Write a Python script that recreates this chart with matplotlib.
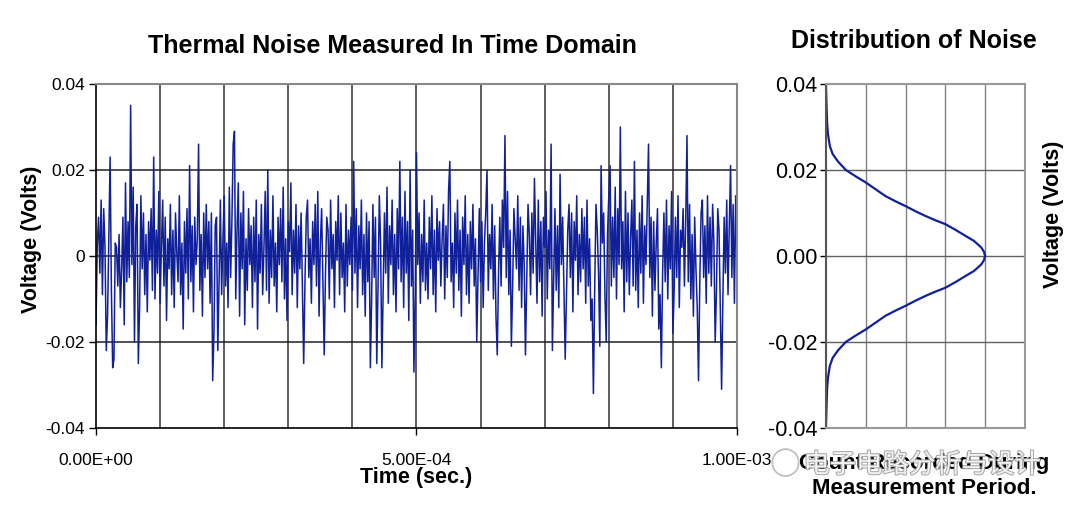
import numpy as np
import matplotlib.pyplot as plt
import matplotlib.patheffects as pe

# noise trace, mV, one sample every 2 us (0 .. 1 ms)
noise_mv = [
    -16, 3, 9, -4, 13, -9, 11, 2, -22, -14, 4, 23, -8, -26, -24, 3, 2, -7, 5, -12,
    -3, 9, -16, 17, -6, 8, -5, 35, -2, 16, -20, 7, 12, -25, -12, 14, -3, 10, -9, 5,
    -13, 8, -1, 11, -8, 23, -10, 6, -4, 15, -11, 2, 13, -7, 9, -15, 4, -3, 12, -9,
    6, -12, 10, 1, -6, 14, -9, 3, -17, 8, -4, 11, -10, 21, -6, 7, -13, 9, -2, 4,
    26, -8, 5, -14, 10, -5, 12, -3, 8, -11, 10, -29, -18, 7, 9, -22, -6, 13, -9, 4,
    14, -7, 3, -12, 16, -5, 8, 26, 29, -10, 6, 17, -14, 10, -3, 15, -16, 4, -8, 11,
    -2, 7, -12, 9, -6, 13, -17, 5, -4, 12, -9, 2, 15, -8, 20, -11, 6, -5, 14, -7,
    3, -13, 9, -2, 11, -6, 16, -10, 4, -15, 8, 1, 17, -9, 6, -4, 12, -12, 7, -3,
    10, -8, -25, -6, 9, 13, -5, 4, -11, 8, -2, 12, -7, 15, -14, 3, 11, -6, -23, -4,
    9, 6, -10, 13, -3, 5, -12, 8, -1, 14, -9, 10, -5, 3, -13, 12, -7, 6, -2, 9,
    -8, 22, -4, 11, -12, 7, -3, 13, -9, 5, -14, 10, -6, 8, -26, -10, 12, -5, 9, -25,
    -7, 14, 3, -26, -8, 10, -4, 16, -11, 7, -2, 13, -9, 5, -13, 11, -3, 22, -6, 9,
    -12, 15, -4, 8, -15, 20, -7, 6, -27, -9, 24, -2, 10, -11, 5, -6, 13, -8, 3, -10,
    9, -3, 14, -9, 6, -13, 11, -1, 8, -7, 4, 12, -10, 7, -5, 15, 22, -6, 3, -12,
    10, -4, 13, -8, 6, -14, 9, -2, 14, -9, 5, -11, 8, -3, 12, -7, 4, -20, -5, 11,
    -6, 8, -12, 3, 10, 20, -8, 5, -3, 12, -10, 7, -14, -23, -4, 9, -7, 13, 2, 28,
    -5, 15, -9, 6, -21, -7, 11, 4, -3, 14, -8, 9, -12, 7, -2, -23, -6, 12, 5, -9,
    10, -4, 18, 3, -11, 13, -6, 8, -14, 9, 2, 15, -10, 6, -3, 26, -22, -5, 11, -8,
    7, -12, 19, -2, 9, -7, -24, -9, 6, 12, -5, 10, -13, 8, -1, 14, -9, 5, -6, 11,
    -3, 9, -11, 13, -7, 4, -15, -10, -32, -8, 12, 6, -4, -21, 21, 3, 10, -9, -20, 5,
    14, 21, -7, 9, -5, 16, -10, 11, -2, 30, -3, 8, -13, 15, -6, 10, -9, 4, 13, -7,
    22, -8, 6, -12, 10, -4, 14, -11, 7, -2, 12, 26, -5, 9, -14, 8, -8, 3, 11, -17,
    -9, -26, -4, 10, -6, 13, -10, 7, -3, 15, -18, -8, 9, -5, 14, -12, 6, 2, 11, -7,
    8, 28, -6, 12, -10, 5, -14, 9, -3, -12, -29, -6, 10, 13, -5, 7, -11, 14, -4, 9,
    -7, 12, 3, -20, -8, 11, 6, -13, -31, -10, 9, -4, 13, -9, 7, 21, -5, 12, -11, 14, -2,
]
sample_step = 2e-6

# distribution curve (voltage, count)
dist_volts = [-0.04, -0.037, -0.034, -0.031, -0.0284, -0.0255, -0.0237, -0.022,
              -0.02, -0.0185, -0.0171, -0.0155, -0.0139, -0.0127, -0.0116, -0.0104,
              -0.0093, -0.0083, -0.0074, -0.006, -0.0047, -0.0035, -0.002, -0.001,
              0.0,
              0.001, 0.002, 0.0035, 0.0047, 0.006, 0.0074, 0.0083, 0.0093,
              0.0104, 0.0116, 0.0127, 0.0139, 0.0155, 0.0171, 0.0185, 0.02,
              0.022, 0.0237, 0.0255, 0.0284, 0.031, 0.034, 0.037, 0.04]
dist_count = [0.0, 0.01, 0.02, 0.03, 0.05, 0.1, 0.17, 0.3,
              0.5, 0.75, 1.0, 1.25, 1.5, 1.75, 2.0, 2.25,
              2.5, 2.75, 3.0, 3.27, 3.5, 3.72, 3.9, 3.97,
              4.0,
              3.97, 3.9, 3.72, 3.5, 3.27, 3.0, 2.75, 2.5,
              2.25, 2.0, 1.75, 1.5, 1.25, 1.0, 0.75, 0.5,
              0.3, 0.17, 0.1, 0.05, 0.03, 0.02, 0.01, 0.0]

left_yticks = [-0.04, -0.02, 0, 0.02, 0.04]
left_ylabels = ['-0.04', '-0.02', '0', '0.02', '0.04']
right_ylabels = ['-0.04', '-0.02', '0.00', '0.02', '0.04']
time_ticks = [0, 5e-4, 1e-3]
time_labels = ['0.00E+00', '5.00E-04', '1.00E-03']

LINE = '#10209a'
plt.rcParams['font.family'] = ['Liberation Sans', 'DejaVu Sans']

fig = plt.figure(figsize=(10.74, 5.15), dpi=100)

# ---- time domain ----
ax = fig.add_axes([0.0894, 0.169, 0.5968, 0.668])
t = np.arange(len(noise_mv)) * sample_step
v = np.array(noise_mv) * 1e-3
ax.plot(t, v, color=LINE, lw=1.1)
ax.set_xlim(0, 1e-3)
ax.set_ylim(-0.04, 0.04)
for gx in np.arange(1, 10) * 1e-4:
    ax.axvline(gx, color='#303030', lw=1.1, zorder=0)
for gy in [-0.02, 0, 0.02]:
    ax.axhline(gy, color='#202020', lw=1.1, zorder=0)
ax.set_yticks(left_yticks)
ax.set_yticklabels(left_ylabels, fontsize=12.5)
ax.set_xticks(time_ticks)
ax.set_xticklabels(time_labels, fontsize=12.5)
ax.tick_params(direction='out', length=5, width=1, pad=3)
ax.tick_params(axis='x', pad=13)
for s in ['left', 'bottom']:
    ax.spines[s].set_color('black')
    ax.spines[s].set_linewidth(1.2)
for s in ['top', 'right']:
    ax.spines[s].set_color('#888888')
    ax.spines[s].set_linewidth(1.5)
ax.set_ylabel('Voltage (Volts)', fontsize=15.5, fontweight='bold')
ax.yaxis.set_label_coords(-0.085, 0.547)
ax.set_xlabel('Time (sec.)', fontsize=15.5, fontweight='bold', labelpad=-1)
fig.text(392 / 1074, 1 - 46 / 515, 'Thermal Noise Measured In Time Domain',
         fontsize=18, fontweight='bold', ha='center', va='center')

# ---- distribution ----
ax2 = fig.add_axes([0.769, 0.169, 0.1853, 0.668])
ax2.plot(dist_count, dist_volts, color=LINE, lw=1.6)
ax2.set_xlim(0, 5)
ax2.set_ylim(-0.04, 0.04)
for gx in [1, 2, 3, 4]:
    ax2.axvline(gx, color='#808080', lw=1, zorder=0)
for gy in [-0.02, 0, 0.02]:
    ax2.axhline(gy, color='#606060', lw=1, zorder=0)
ax2.set_xticks([])
ax2.set_yticks(left_yticks)
ax2.set_yticklabels(right_ylabels, fontsize=15.5)
ax2.tick_params(axis='y', direction='out', length=4, width=1, pad=2)
for s in ax2.spines.values():
    s.set_color('#999999')
    s.set_linewidth(1.5)
ax2.spines['left'].set_color('#555555')
ax2.yaxis.set_label_position('right')
ax2.set_ylabel('Voltage (Volts)', fontsize=15.5, fontweight='bold')
ax2.yaxis.set_label_coords(1.09, 0.62)
fig.text(924 / 1074, 1 - 476 / 515, 'Count Recorded During\nMeasurement Period.',
         fontsize=16, fontweight='bold', ha='center', va='center', linespacing=1.25)
fig.text(914 / 1074, 1 - 41 / 515, 'Distribution of Noise',
         fontsize=18, fontweight='bold', ha='center', va='center')

# watermark
wm = fig.text(922 / 1074, 1 - 465 / 515, '电子电路分析与设计', fontsize=19,
              family=['Noto Sans CJK SC', 'DejaVu Sans'], color='white',
              ha='center', va='center', alpha=0.85)
wm.set_path_effects([pe.withStroke(linewidth=1.5, foreground='#9a9a9a')])
fig.text(785 / 1074, 1 - 463 / 515, '◯', fontsize=20, color='#b0b0b0',
         ha='center', va='center', alpha=0.8)

fig.savefig('out.png', dpi=100)
